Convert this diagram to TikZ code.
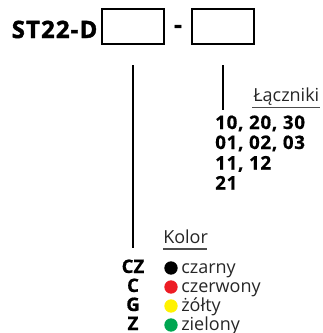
\documentclass[tikz,border=0pt]{standalone}
\usepackage{fontspec}
\setmainfont{Open Sans}
\newcommand{\csep}{,\hspace{0.3em}}
\begin{document}
\begin{tikzpicture}[x=0.75pt,y=-0.75pt,
  codebox/.style={draw, line width=0.8pt, minimum width=46.5pt, minimum height=26.25pt, inner sep=0pt},
  title/.style={font=\bfseries\fontsize{17.9}{20}\selectfont\addfontfeatures{LetterSpace=5,FakeBold=2}, inner sep=0pt},
  code/.style={font=\bfseries\fontsize{14}{17}\selectfont\addfontfeatures{LetterSpace=4,FakeBold=0.6}, inner sep=0pt},
  colcode/.style={font=\bfseries\fontsize{14}{17}\selectfont\addfontfeatures{FakeBold=0.6}, inner sep=0pt},
  label/.style={font=\fontsize{13.5}{15}\selectfont, text=black!85, inner sep=0pt},
  rule/.style={line width=0.8pt, black!70},
  dot/.style={circle, inner sep=0pt, minimum size=10pt}]
\useasboundingbox (0,0) rectangle (323,333);
\definecolor{kred}{HTML}{ED1C24}
\definecolor{kyel}{HTML}{FFF200}
\definecolor{kgrn}{HTML}{00A651}

\node[title, anchor=base west] (st) at (11.5,38) {ST22-D};
\node[codebox] (b1) at (133,26.5) {};
\node[title] (dash) at (178,29) {-};
\node[codebox] (b2) at (223,26.5) {};

\coordinate (l1a) at (133,65);
\coordinate (l1b) at (133,248);
\coordinate (l2a) at (223,65);
\coordinate (l2b) at (223,110);
\draw[line width=0.8pt] (l1a) -- (l1b);
\draw[line width=0.8pt] (l2a) -- (l2b);

\node[label, anchor=base west] (lacz) at (253,101) {Łączniki};
\coordinate (lu1) at (252,107.5);
\coordinate (lu2) at (320,107.5);
\draw[rule] (lu1) -- (lu2);

\node[code, anchor=base west] (r1) at (215,129) {10\csep 20\csep 30};
\node[code, anchor=base west] (r2) at (215,149) {01\csep 02\csep 03};
\node[code, anchor=base west] (r3) at (215,169.5) {11\csep 12};
\node[code, anchor=base west] (r4) at (215,189.5) {21};

\node[label, anchor=base west] (kolor) at (163,243) {Kolor};
\coordinate (ku1) at (163,249);
\coordinate (ku2) at (207,249);
\draw[rule] (ku1) -- (ku2);

\node[colcode, anchor=base] (cz) at (133,273) {CZ};
\node[colcode, anchor=base] (c) at (133,292) {C};
\node[colcode, anchor=base] (g) at (133,311) {G};
\node[colcode, anchor=base] (z) at (133,330) {Z};

\node[dot, fill=black] (d1) at (171,268) {};
\node[dot, fill=kred] (d2) at (171,287) {};
\node[dot, fill=kyel] (d3) at (171,306) {};
\node[dot, fill=kgrn] (d4) at (171,325) {};

\node[label, anchor=base west] (n1) at (181,273) {czarny};
\node[label, anchor=base west] (n2) at (181,292) {czerwony};
\node[label, anchor=base west] (n3) at (181,311) {żółty};
\node[label, anchor=base west] (n4) at (181,330) {zielony};
\end{tikzpicture}
\end{document}
